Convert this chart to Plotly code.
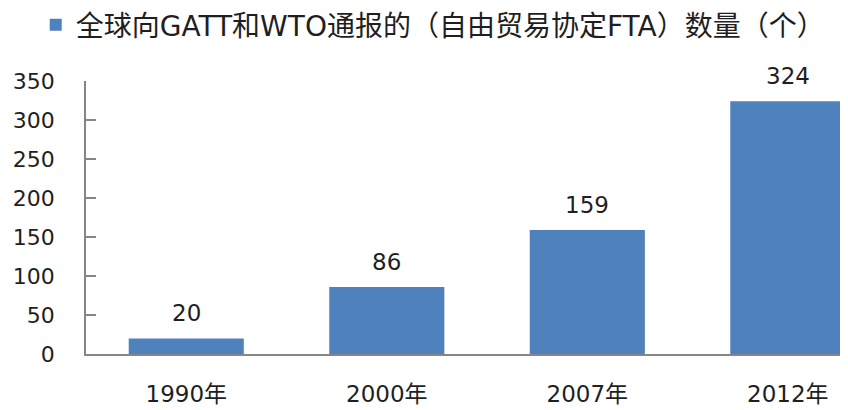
import plotly.graph_objects as go

categories = ["1990年", "2000年", "2007年", "2012年"]
values = [20, 86, 159, 324]
series_name = "全球向GATT和WTO通报的（自由贸易协定FTA）数量（个）"
y_ticks = [0, 50, 100, 150, 200, 250, 300, 350]

FONT = "DejaVu Sans, Noto Sans CJK SC, sans-serif"
BAR = "#4F81BD"
TXT = "#1f1f1f"
AX = "#868686"

fig = go.Figure()
fig.add_trace(go.Bar(
    x=categories, y=values, name=series_name,
    marker=dict(color=BAR, line=dict(width=0)),
    width=0.574, showlegend=True,
))

for c, v in zip(categories, values):
    fig.add_annotation(x=c, y=v, text=str(v), showarrow=False,
                       yanchor="middle", yshift=25,
                       font=dict(family=FONT, size=23, color=TXT))

# page body has an 8px margin; figure is sized to fit the 848x410 window
fig.update_layout(
    width=840, height=402,
    margin=dict(l=78, r=0, t=73, b=56, autoexpand=False),
    paper_bgcolor="white", plot_bgcolor="white",
    font=dict(family=FONT, color=TXT),
    showlegend=True,
    legend=dict(
        xref="container", yref="container",
        x=0.033, y=1 - 17 / 402, xanchor="left", yanchor="middle",
        font=dict(family=FONT, size=28, color=TXT),
        bgcolor="rgba(0,0,0,0)", itemsizing="constant",
    ),
    xaxis=dict(
        range=[-0.5, 3.30], showgrid=False, zeroline=False,
        showline=True, linecolor=AX, linewidth=1.5,
        ticks="", tickfont=dict(family=FONT, size=23, color=TXT),
        ticklabelstandoff=19, automargin=False,
    ),
    yaxis=dict(
        range=[0, 350], tickvals=y_ticks, showgrid=False, zeroline=False,
        showline=True, linecolor=AX, linewidth=1.5,
        ticks="inside", ticklen=10, tickcolor=AX, tickwidth=1.5,
        tickfont=dict(family=FONT, size=22, color=TXT),
        ticklabelstandoff=25, automargin=False,
    ),
)

fig.write_html("out.html")
